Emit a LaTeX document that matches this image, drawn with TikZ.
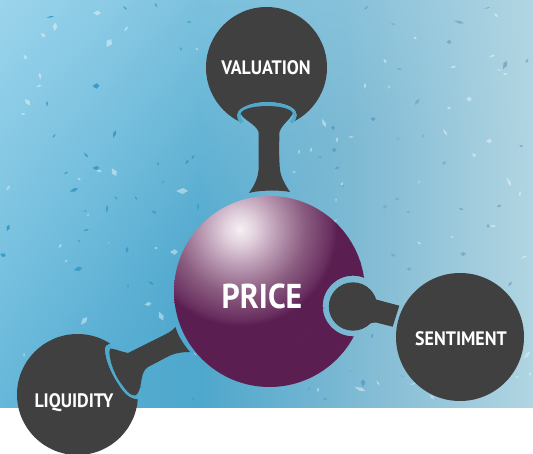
\documentclass[tikz,border=0pt]{standalone}
\usepackage{fontspec}
\setmainfont[FakeStretch=.92]{PT Sans}
\definecolor{hubgrey}{HTML}{404040}
\definecolor{ringblue}{HTML}{4FA9CD}
\definecolor{shardL}{HTML}{3C9CCB}
\definecolor{shardM}{HTML}{5EA3C6}
\definecolor{shardR}{HTML}{82AAC4}
\definecolor{topc}{HTML}{A6DAEF}
\definecolor{bA}{HTML}{5EB3D7}
\definecolor{bB}{HTML}{56ADD2}
\definecolor{bC}{HTML}{4EA7CC}
\definecolor{bD}{HTML}{7DB9D3}
\definecolor{bE}{HTML}{B1D5E2}
\pgfdeclareradialshading{sphereshade}{\pgfpoint{0bp}{0bp}}{
  color(0bp)=(rgb,255:red,246;green,240;blue,244);
  color(3bp)=(rgb,255:red,226;green,210;blue,222);
  color(8bp)=(rgb,255:red,182;green,148;blue,174);
  color(13bp)=(rgb,255:red,138;green,92;blue,128);
  color(18bp)=(rgb,255:red,106;green,48;blue,96);
  color(19.4bp)=(rgb,255:red,90;green,31;blue,80);
  color(50bp)=(rgb,255:red,90;green,31;blue,80)}
\tikzset{
  hub/.style={circle,fill=hubgrey,inner sep=0pt,minimum size=#1},
  lbl/.style={text=white,inner sep=0pt,font=\bfseries\fontsize{19.5}{19.5}\selectfont},
  bigl/.style={text=white,inner sep=0pt,font=\bfseries\fontsize{34.5}{34.5}\selectfont},
  neck/.style={fill=hubgrey},
  ringline/.style={draw=ringblue,line width=3.6pt},
  lightshard/.style={fill=white,fill opacity=.42},
  darkL/.style={fill=shardL},
  darkM/.style={fill=shardM},
  darkR/.style={fill=shardR}
}
\newcommand{\shards}[2]{%
  \foreach \px/\py/\ps/\pa/\pw in {#2}{
    \fill[#1,shift={(\px,\py)},rotate=\pa]
      (-\ps,0) -- (.2*\ps,-\pw*\ps) -- (\ps,0) -- (.1*\ps,\pw*\ps) -- cycle;
  }}
\begin{document}
\begin{tikzpicture}[x=1pt,y=-1pt]
\useasboundingbox (0,0) rectangle (533,454);
\fill[white] (0,0) rectangle (533,454);
% background
\begin{scope}
  \clip (0,0) rectangle (533,407);
  \foreach \ys in {0,6,...,402}{
    \foreach \xa/\xb/\ca/\cb in {0/100/bA/bB,100/200/bB/bC,200/350/bC/bD,350/533/bD/bE}{
      \pgfmathsetmacro\wa{85*max(0,1-(1.3*\xa+1.4*(\ys+3))/650)}
      \pgfmathsetmacro\wb{85*max(0,1-(1.3*\xb+1.4*(\ys+3))/650)}
      \colorlet{stripl}{topc!\wa!\ca}
      \colorlet{stripr}{topc!\wb!\cb}
      \shade[left color=stripl,right color=stripr] (\xa,\ys) rectangle (\xb+.5,\ys+6.5);
    }
  }
  \shards{lightshard}{97/13/4/0/.6,55/27/4.5/80/.5,43/35/3/-40/.6,25/57/3/-60/.5,40/76/3.5/100/.4,39/86/3/20/.4,27.5/102/4/-50/.6,23/114/2.5/0/.4,109/43/4.5/60/.7,126/29/3/50/.4,197/49/2/-50/.5,99/171/3/-10/.4,114/172/4.5/-60/.6,79/179/2/-20/.5,8/188/3/50/.4,182/191/6/0/.5,88/215/1.5/20/.5,60/246/2.5/50/.5,109/243/1.5/10/.3,156/248/2/0/.5,174/252/4/0/.7,66/261/2/40/.4,148/304/3.5/10/.6,161/316/5/-65/.5,84/321/5/50/.5,24/355/2.5/90/.3,195/354/2/-50/.3,336/200/2/90/.4,335/221/3/30/.3,318/390/2.5/80/.4,360/389/6/-20/.3,378/383/3/-60/.3,413/384/2.5/20/.3,432/397/3/-40/.4,517/377/2/0/.4,530/374/2/90/.5,527/355/5/50/.3,496/15/3/-55/.4,415/38/2/-40/.6,385/61/2.5/-55/.6,453/67/3/10/.4,492/56/3/20/.4,499/70/2/-10/.4,505/74/2.5/-15/.4,365/86/3/85/.4,389/87/2/60/.4,469/99/3/-20/.8,449/108/2/0/.7,445/132/4/-60/.3,337/140/3/90/.4,351/137/3/0/.3,489/141/3/0/.8,474/155/2.5/-40/.7,509/182/5/-65/.3,520/194/2.5/80/.4,342/184/2/70/.6,419/182/2/70/.3,324/123/4.5/-65/.4,299/152/2.5/80/.4,311/150/2.5/80/.5,294/172/2/-20/.4,419/243/2.5/-30/.4,452/237/2/40/.4,493/226/3/-5/.4,524/257/3/20/.3}
  \shards{darkL}{50/17/4/10/.2,125/8/2.5/-40/.3,156/5/2.5/-60/.3,189/22/2.5/0/.3,181/49/2/90/.4,96/86/3.5/0/.8,47/104/3/90/.3,114.5/134/4/70/.4,54/136/2.5/50/.3,86/155/3.5/-50/.3,96/168/3.5/0/.6,66/173/2.5/30/.3,74/190/4.5/20/.4,158/164/2/80/.4,187/162/2.5/45/.6,193/157/3/60/.3,163/182/2/40/.3,116/198/2/-50/.4,136/198/2/-60/.4,8/228/3.5/70/.5,107/209/4/85/.3,154/212/3/-30/.4,198/207/3.5/80/.3,85/211/2/-10/.3,86/230/3/10/.3,79/241/2/-40/.3,127/250/3/80/.5,3/255/3/-20/.7,78/269/4.5/15/.5,128/286/2/90/.4,151/283/3.5/-30/.4,193/399/2.5/-60/.3,140/387/2.5/0/.5}
  \shards{darkM}{350/371/2/0/.2,309/389/2/90/.4,325/399/2/0/.5,363/383/4/90/.6,324/308/2/90/.4,372/336/2.5/60/.5,333/128/2.5/90/.8,334/150/2.5/0/.9,337/168/2.5/20/.5,343/186/2/0/.3,320/157/2.5/0/.3,366/8/2.5/45/.3,373/119/2.5/-10/.8}
  \shards{darkR}{409/269/2.5/0/.7,510/284/3/50/.4,402/376/2.5/-20/.2,393/24/2.5/-30/.3,459/22/5/-15/.3,487/8/3/15/.2,449/42/2.5/0/.9,399/69/3/-5/.3,505/65/4.5/65/.5,527/61/2.5/60/.4,417/102/4/50/.4,398/139/2/20/.3,423/136/2.5/55/.3,444/163/2.5/40/.5,521/146/2/-15/.5,397/199/2.5/0/.4,385/207/2.5/30/.7,408/212/2/0/.5,461/209/2.5/-15/.4,499/206/2.5/20/.5,488/226/2/90/.7,463/254/3/0/.7,393/255/3/-30/.5}
\end{scope}
% sphere with its bite
\begin{scope}
  \pgfseteorule
  \clip (0,0) rectangle (533,454) (353,306) circle (30.3);
  \clip (269.5,291.5) circle (95.5);
  \shade[shading=sphereshade] (240,229) circle (125);
  \fill[color={rgb,255:red,90;green,31;blue,80}] (0,0) rectangle (533,454) (240,229) circle (124.5);
\end{scope}
\node[bigl,text height=23pt,text depth=0pt] (price) at (262,297) {PRICE};
% valuation
\begin{scope}
  \pgfseteorule
  \clip (0,-10) rectangle (533,470)
    (242.5,124) .. controls (238,120) and (236,116) .. (238,112) .. controls (241,106) and (255,102) .. (267,102) .. controls (279,102) and (293,105) .. (296,112) .. controls (298,116) and (295,120) .. (291,124) -- (291,140) -- (242,140) -- cycle;
  \node[hub=121pt] (valuation) at (266.5,67.5) {};
\end{scope}
\draw[ringline] (242,122.5) .. controls (239,119) and (238,116) .. (240,113) .. controls (243,108) and (256,104) .. (267,104) .. controls (278,104) and (291,107) .. (294,113) .. controls (296,116) and (294,120) .. (291,122.5);
\fill[neck] (240.7,113.5) .. controls (243,108) and (256,106) .. (267,106) .. controls (278,106) and (290,108) .. (292.7,113) .. controls (292,118) and (282,124) .. (279.5,132) .. controls (279,145) and (279,160) .. (280,170) .. controls (281,178) and (286,186) .. (290,192) .. controls (282,190) and (258,190) .. (249,193) .. controls (254,186) and (258,178) .. (258.5,170) .. controls (258.7,160) and (258.7,145) .. (258.5,132) .. controls (256,124) and (243,120) .. cycle;
\node[lbl,text height=13pt,text depth=0pt] (tval) at (266,68) {VALUATION};
% liquidity
\begin{scope}
  \pgfseteorule
  \clip (-10,-10) rectangle (533,470)
    (110,343.5) .. controls (107,344.5) and (104.5,346) .. (105,350) .. controls (106,362) and (112,375) .. (119,385) .. controls (123,391) and (128,397.5) .. (133,398) -- (137.5,399.5) -- (150,400) -- (140,345) -- cycle;
  \node[hub=121pt] (liquidity) at (77.5,394.5) {};
\end{scope}
\draw[ringline] (110.5,345.5) .. controls (108,346) and (106.5,348) .. (107,351) .. controls (108,362) and (114,374) .. (120.5,384) .. controls (125,391) and (129,396) .. (137,397.5);
\fill[neck] (110,348.5) .. controls (116,349) and (122,352) .. (128,353) -- (166,334) .. controls (170,332) and (173,330) .. (175.5,327) .. controls (178,336) and (184,345) .. (190,352) .. controls (182,352) and (175,353) .. (169,356) -- (148,367) .. controls (143,370) and (142,376) .. (141,383) .. controls (140,389) and (138,395) .. (135,395.5) .. controls (130,396) and (125,389) .. (120,382) .. controls (114,373) and (110,362) .. (109.3,352) .. controls (109,350) .. cycle;
\node[lbl,text height=13pt,text depth=0pt] (tliq) at (74,401) {LIQUIDITY};
% sentiment
\node[hub=128pt] (sentiment) at (460,337) {};
\node[hub=48.4pt] (ball) at (353,306.5) {};
\fill[neck] (370,292) .. controls (371,296) and (373,298) .. (376,299.5) -- (399.3,305.7) -- (392.7,326.7) -- (376,322.5) .. controls (373,322) and (370,323) .. (367,326) -- cycle;
\node[lbl,text height=13pt,text depth=0pt] (tsen) at (461,339) {SENTIMENT};
\end{tikzpicture}
\end{document}
